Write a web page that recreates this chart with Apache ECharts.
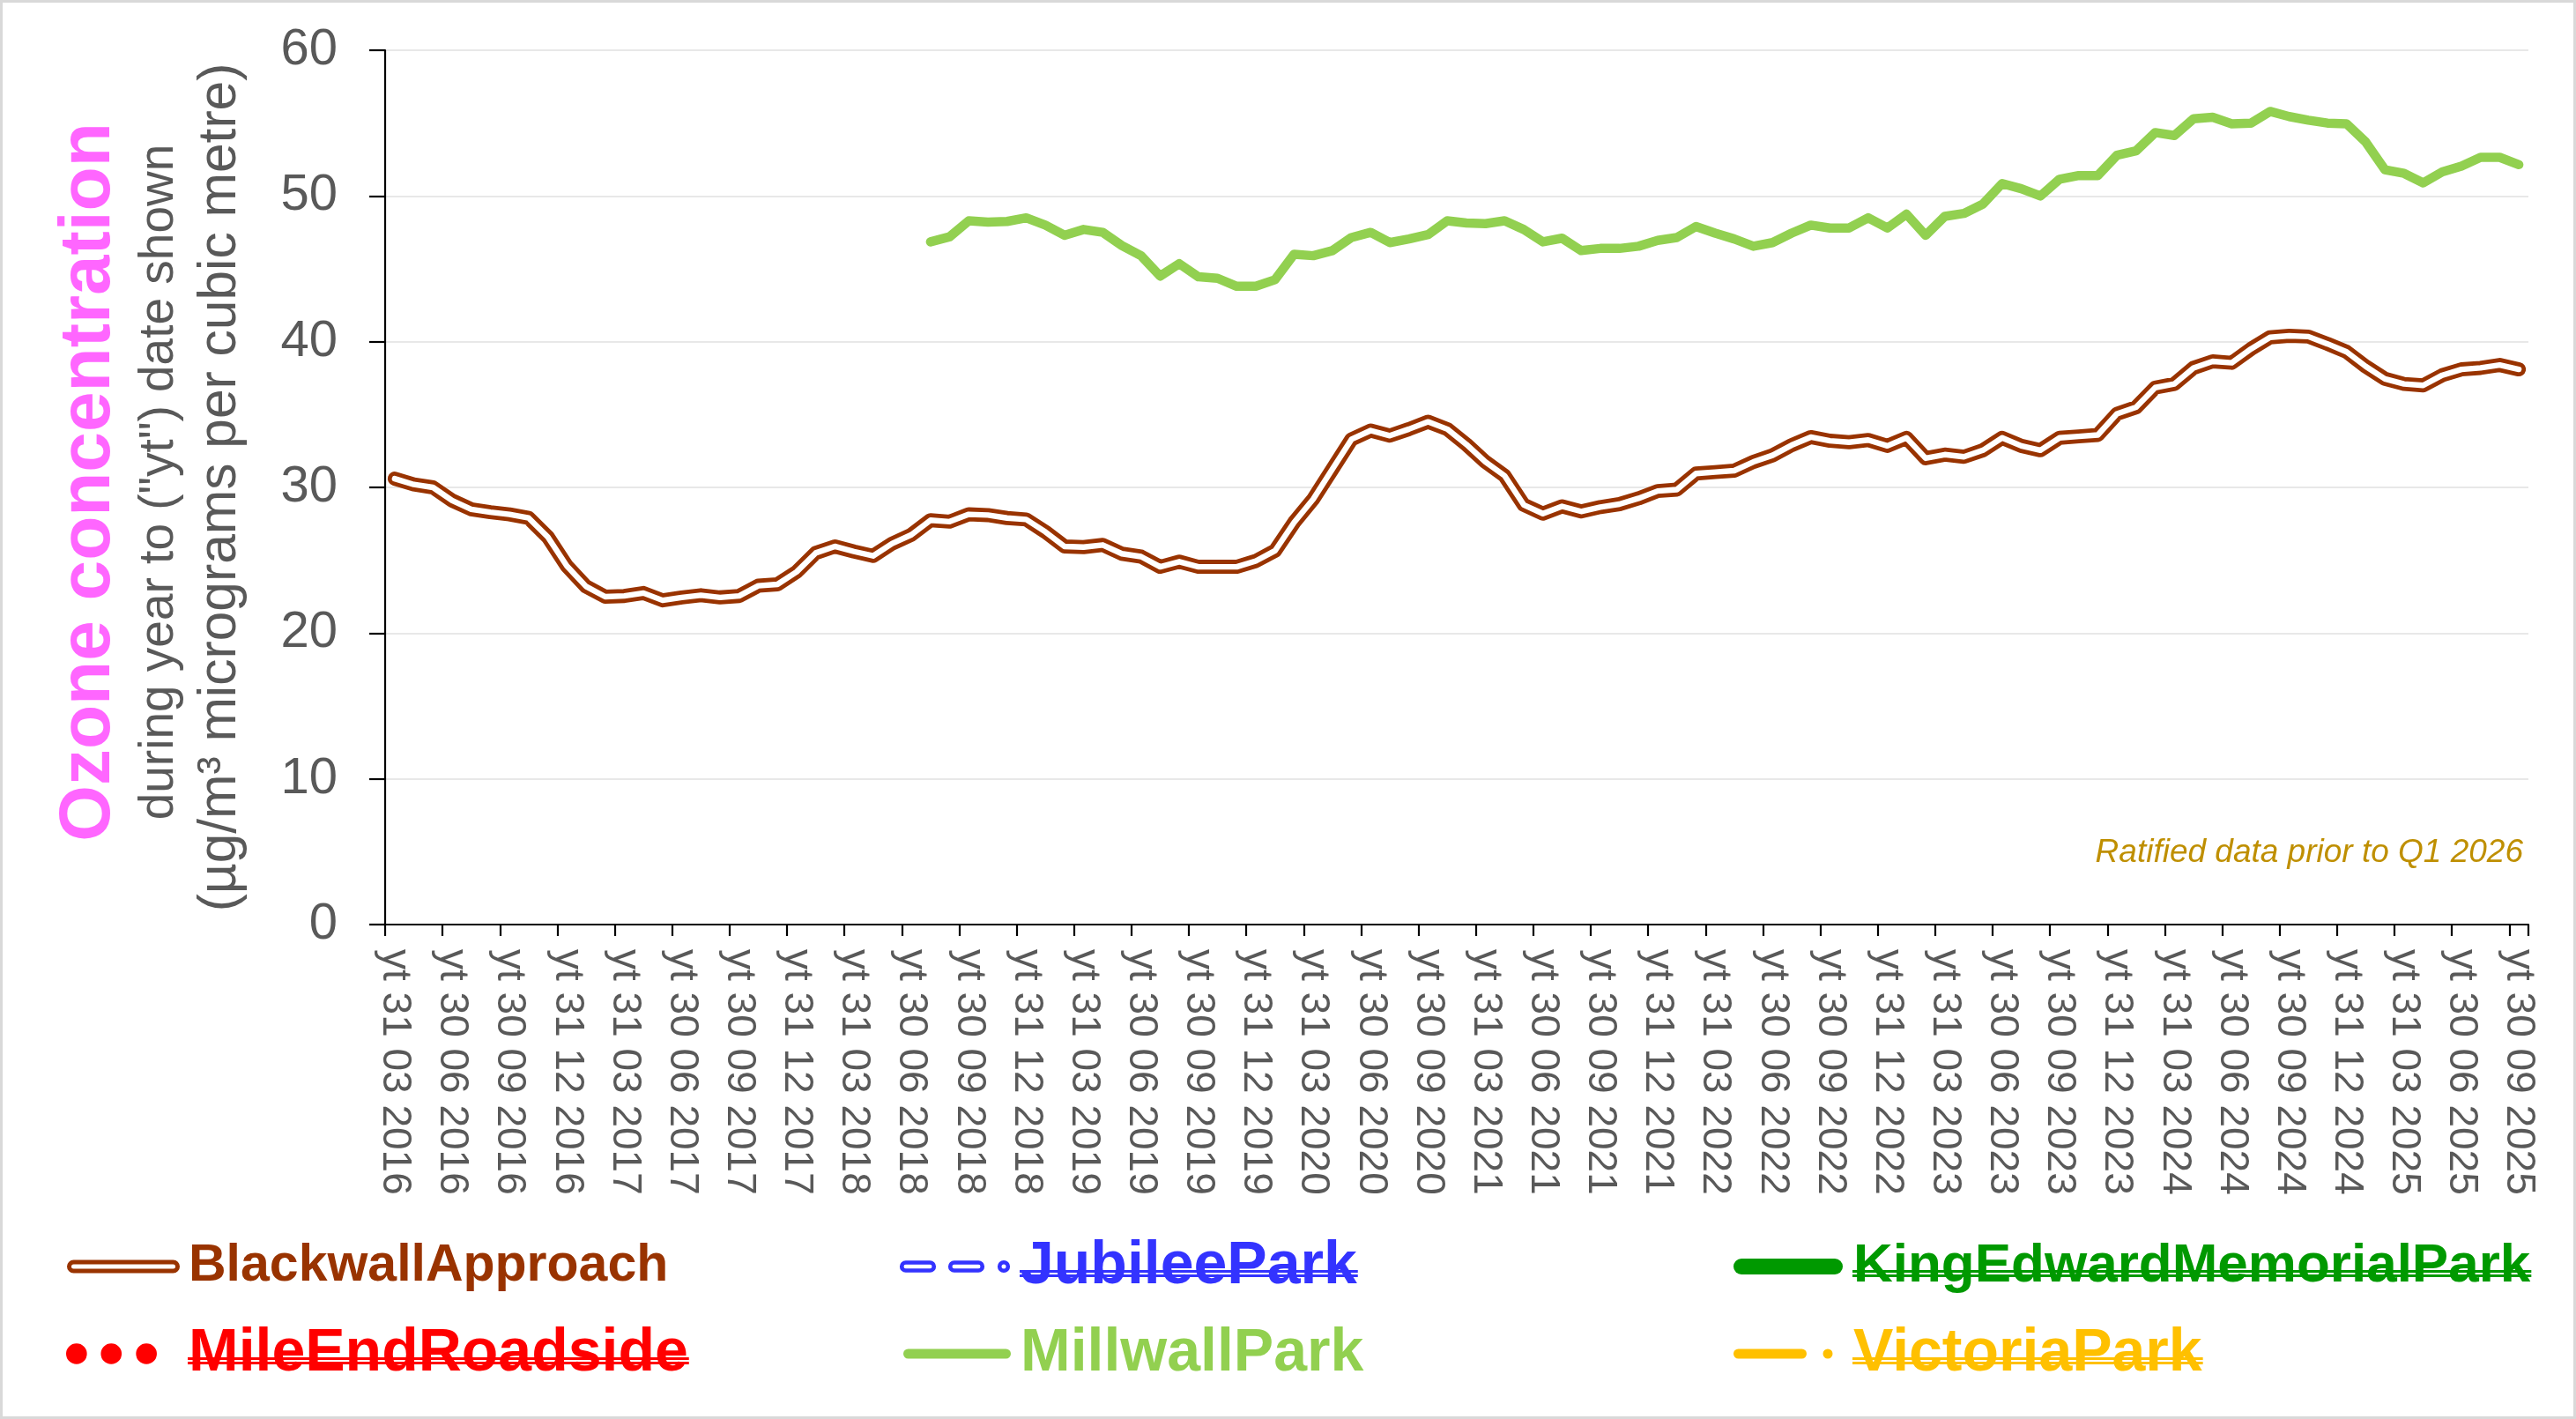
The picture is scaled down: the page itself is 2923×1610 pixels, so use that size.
<!DOCTYPE html>
<html>
<head>
<meta charset="utf-8">
<script src="https://cdn.jsdelivr.net/npm/echarts@6/dist/echarts.min.js"></script>
<style>
html,body{margin:0;padding:0;background:#ffffff;}
#chart{width:2923px;height:1610px;}
</style>
</head>
<body>
<div id="chart"></div>
<script>
// ---------------- DATA ----------------
const categories = [
  "yt 31 03 2016","yt 30 04 2016","yt 31 05 2016","yt 30 06 2016","yt 31 07 2016","yt 31 08 2016","yt 30 09 2016","yt 31 10 2016","yt 30 11 2016","yt 31 12 2016",
  "yt 31 01 2017","yt 28 02 2017","yt 31 03 2017","yt 30 04 2017","yt 31 05 2017","yt 30 06 2017","yt 31 07 2017","yt 31 08 2017","yt 30 09 2017","yt 31 10 2017","yt 30 11 2017","yt 31 12 2017",
  "yt 31 01 2018","yt 28 02 2018","yt 31 03 2018","yt 30 04 2018","yt 31 05 2018","yt 30 06 2018","yt 31 07 2018","yt 31 08 2018","yt 30 09 2018","yt 31 10 2018","yt 30 11 2018","yt 31 12 2018",
  "yt 31 01 2019","yt 28 02 2019","yt 31 03 2019","yt 30 04 2019","yt 31 05 2019","yt 30 06 2019","yt 31 07 2019","yt 31 08 2019","yt 30 09 2019","yt 31 10 2019","yt 30 11 2019","yt 31 12 2019",
  "yt 31 01 2020","yt 29 02 2020","yt 31 03 2020","yt 30 04 2020","yt 31 05 2020","yt 30 06 2020","yt 31 07 2020","yt 31 08 2020","yt 30 09 2020","yt 30 11 2020","yt 31 01 2021",
  "yt 31 03 2021","yt 30 04 2021","yt 31 05 2021","yt 30 06 2021","yt 31 07 2021","yt 31 08 2021","yt 30 09 2021","yt 31 10 2021","yt 30 11 2021","yt 31 12 2021",
  "yt 31 01 2022","yt 28 02 2022","yt 31 03 2022","yt 30 04 2022","yt 31 05 2022","yt 30 06 2022","yt 31 07 2022","yt 31 08 2022","yt 30 09 2022","yt 31 10 2022","yt 30 11 2022","yt 31 12 2022",
  "yt 31 01 2023","yt 28 02 2023","yt 31 03 2023","yt 30 04 2023","yt 31 05 2023","yt 30 06 2023","yt 31 07 2023","yt 31 08 2023","yt 30 09 2023","yt 31 10 2023","yt 30 11 2023","yt 31 12 2023",
  "yt 31 01 2024","yt 29 02 2024","yt 31 03 2024","yt 30 04 2024","yt 31 05 2024","yt 30 06 2024","yt 31 07 2024","yt 31 08 2024","yt 30 09 2024","yt 31 10 2024","yt 30 11 2024","yt 31 12 2024",
  "yt 31 01 2025","yt 28 02 2025","yt 31 03 2025","yt 30 04 2025","yt 31 05 2025","yt 30 06 2025","yt 31 07 2025","yt 31 08 2025","yt 30 09 2025"
];

const blackwallApproach = [
  30.6, 30.2, 30.0, 29.1, 28.5, 28.3, 28.15, 27.9, 26.6, 24.6,
  23.2, 22.5, 22.55, 22.75, 22.25, 22.45, 22.6, 22.45, 22.55, 23.25,
  23.35, 24.2, 25.5, 25.95, 25.6, 25.3, 26.15, 26.75, 27.75, 27.65,
  28.15, 28.1, 27.9, 27.8, 26.95, 25.95, 25.9, 26.05, 25.45, 25.25,
  24.55, 24.9, 24.55, 24.55, 24.55, 24.95, 25.65, 27.6, 29.2, 31.25,
  33.3, 33.9, 33.55, 34.0, 34.5, 34.0, 32.95, 31.75, 30.8, 28.8,
  28.2, 28.7, 28.35, 28.65, 28.85, 29.25, 29.75, 29.85, 30.95, 31.05,
  31.15, 31.75, 32.2, 32.9, 33.45, 33.2, 33.1, 33.25, 32.85, 33.4,
  32.0, 32.25, 32.1, 32.55, 33.4, 32.85, 32.55, 33.4, 33.5, 33.6,
  35.05, 35.5, 36.85, 37.1, 38.2, 38.65, 38.55, 39.5, 40.3, 40.4,
  40.35, 39.85, 39.3, 38.3, 37.45, 37.1, 37.0, 37.7, 38.1, 38.2,
  38.4, 38.1
];

const millwallPark = [
  null, null, null, null, null, null, null, null, null, null,
  null, null, null, null, null, null, null, null, null, null,
  null, null, null, null, null, null, null, null,
  46.85, 47.2, 48.3, 48.2, 48.25, 48.5, 48.0, 47.3, 47.7, 47.5,
  46.6, 45.9, 44.5, 45.35, 44.45, 44.35, 43.8, 43.8, 44.25, 46.0,
  45.9, 46.25, 47.15, 47.5, 46.8, 47.05, 47.35, 48.3, 48.15, 48.1,
  48.3, 47.7, 46.85, 47.1, 46.25, 46.4, 46.4, 46.55, 46.95, 47.15,
  47.9, 47.45, 47.05, 46.55, 46.8, 47.45, 48.0, 47.8, 47.8, 48.5,
  47.8, 48.75, 47.3, 48.6, 48.8, 49.45, 50.85, 50.5, 50.0, 51.15,
  51.4, 51.4, 52.8, 53.1, 54.35, 54.15, 55.3, 55.4, 54.95, 55.0,
  55.8, 55.45, 55.2, 55.0, 54.95, 53.7, 51.8, 51.55, 50.9, 51.65,
  52.05, 52.65, 52.65, 52.15
];

const jubileePark = [];
const kingEdwardMemorialPark = [];
const mileEndRoadside = [];
const victoriaPark = [];

const yMin = 0;
const yMax = 60;
const yStep = 10;

const titleMain = "Ozone concentration";
const titleLine2 = "during year to (\"yt\") date shown";
const titleLine3 = "(\u00B5g/m\u00B3 micrograms per cubic metre)";
const noteText = "Ratified data prior to Q1 2026";

// ---------------- STYLE ----------------
const FONT = '"Liberation Sans", Arial, Helvetica, sans-serif';
const GREY = '#595959';

function capsule(x1, x2, yc, h) {
  const r = h / 2;
  return 'M' + (x1 + r) + ' ' + (yc - r) + 'L' + (x2 - r) + ' ' + (yc - r) +
    'A' + r + ' ' + r + ' 0 0 1 ' + (x2 - r) + ' ' + (yc + r) +
    'L' + (x1 + r) + ' ' + (yc + r) +
    'A' + r + ' ' + r + ' 0 0 1 ' + (x1 + r) + ' ' + (yc - r) + 'Z';
}
function dot(cx, cy, r) {
  return 'M' + (cx - r) + ' ' + cy + 'A' + r + ' ' + r + ' 0 1 1 ' + (cx + r) + ' ' + cy +
    'A' + r + ' ' + r + ' 0 1 1 ' + (cx - r) + ' ' + cy + 'Z';
}
const ICON_W = 134, ICON_H = 26;
const BOX = 'M0 0M' + ICON_W + ' ' + ICON_H;

const legendItems = [
  { name: 'BlackwallApproach', left: 75, row: 1437, size: 59, color: '#993300', strike: false,
    icon: 'path://' + BOX + capsule(3.5, 126.5, 13, 10),
    itemStyle: { color: '#ffffff', borderColor: '#993300', borderWidth: 5 } },
  { name: 'MileEndRoadside', left: 75, row: 1536, size: 68, color: '#FF0000', strike: true,
    icon: 'path://' + BOX + dot(10, 13, 12) + dot(50, 13, 12) + dot(90.5, 13, 12),
    itemStyle: { color: '#FF0000', borderColor: '#FF0000', borderWidth: 0 } },
  { name: 'JubileePark', left: 1019, row: 1437, size: 68, color: '#3333FF', strike: true,
    icon: 'path://' + BOX + capsule(4.2, 40.8, 13, 9) + capsule(59.2, 95.8, 13, 9) + dot(120, 13, 4.8),
    itemStyle: { color: '#ffffff', borderColor: '#3333FF', borderWidth: 4.6 } },
  { name: 'MillwallPark', left: 1019, row: 1536, size: 68, color: '#92D050', strike: false,
    icon: 'path://' + BOX + capsule(6, 128, 13, 11),
    itemStyle: { color: '#92D050', borderColor: '#92D050', borderWidth: 0 } },
  { name: 'KingEdwardMemorialPark', left: 1964, row: 1437, size: 62, color: '#009900', strike: true,
    icon: 'path://' + BOX + capsule(3, 127, 13, 18),
    itemStyle: { color: '#009900', borderColor: '#009900', borderWidth: 0 } },
  { name: 'VictoriaPark', left: 1964, row: 1536, size: 68, color: '#FFC000', strike: true,
    icon: 'path://' + BOX + capsule(3, 86, 13, 11) + dot(110, 13, 5.5),
    itemStyle: { color: '#FFC000', borderColor: '#FFC000', borderWidth: 0 } }
];

const legends = legendItems.map(function (it) {
  return {
    show: true,
    orient: 'vertical',
    left: it.left - it.itemStyle.borderWidth / 2,
    top: it.row - it.size / 2,
    padding: 0,
    itemWidth: ICON_W,
    itemHeight: ICON_H,
    itemGap: 0,
    selectedMode: false,
    data: [{
      name: it.name,
      icon: it.icon,
      itemStyle: it.itemStyle,
      textStyle: { color: it.color, fontSize: it.size, fontWeight: 'bold', fontFamily: FONT }
    }]
  };
});

// strikethrough overlays for the legend entries without data
const measureCtx = document.createElement('canvas').getContext('2d');
const strikeGraphics = [];
legendItems.forEach(function (it) {
  if (!it.strike) return;
  measureCtx.font = 'bold ' + it.size + 'px ' + FONT;
  const w = measureCtx.measureText(it.name).width;
  const x0 = it.left + ICON_W + 5 - 1;
  const x1 = it.left + ICON_W + 5 + w + 1;
  [5.5, 10.5].forEach(function (dy) {
    strikeGraphics.push({
      type: 'line', silent: true, z: 100,
      shape: { x1: x0, y1: it.row + dy, x2: x1, y2: it.row + dy },
      style: { stroke: it.color, lineWidth: 2.8 }
    });
  });
});

const chart = echarts.init(document.getElementById('chart'), null, { renderer: 'canvas' });

const option = {
  backgroundColor: '#ffffff',
  animation: false,
  tooltip: { show: false },
  grid: { left: 437, right: 54, top: 57, bottom: 561, containLabel: false, outerBoundsMode: 'none' },
  legend: legends,
  xAxis: {
    type: 'category',
    data: categories,
    boundaryGap: true,
    axisLine: { show: true, lineStyle: { color: '#000000', width: 2.2 } },
    axisTick: { show: true, interval: 2, length: 13, inside: false, lineStyle: { color: '#000000', width: 2.2 } },
    axisLabel: { show: true, interval: 2, rotate: -90, margin: 28, fontSize: 46, color: GREY, fontFamily: FONT },
    splitLine: { show: false }
  },
  yAxis: {
    type: 'value',
    min: yMin,
    max: yMax,
    interval: yStep,
    axisLine: { show: true, lineStyle: { color: '#000000', width: 2.2 } },
    axisTick: { show: true, length: 18, inside: false, lineStyle: { color: '#000000', width: 2.2 } },
    axisLabel: { show: true, margin: 54, fontSize: 58, color: GREY, fontFamily: FONT },
    splitLine: { show: true, lineStyle: { color: '#E0E0E0', width: 1.5 } }
  },
  series: [
    { name: 'BlackwallApproach', type: 'line', data: blackwallApproach, symbol: 'none', showSymbol: false,
      lineStyle: { color: '#993300', width: 16, cap: 'round', join: 'round' }, itemStyle: { color: '#993300' } },
    { name: 'BlackwallApproach (inner)', type: 'line', data: blackwallApproach, symbol: 'none', showSymbol: false, silent: true,
      lineStyle: { color: '#ffffff', width: 6.4, cap: 'round', join: 'round' }, itemStyle: { color: '#ffffff' } },
    { name: 'JubileePark', type: 'line', data: jubileePark, symbol: 'none',
      lineStyle: { color: '#3333FF', width: 6, type: 'dashed' }, itemStyle: { color: '#3333FF' } },
    { name: 'KingEdwardMemorialPark', type: 'line', data: kingEdwardMemorialPark, symbol: 'none',
      lineStyle: { color: '#009900', width: 17 }, itemStyle: { color: '#009900' } },
    { name: 'MileEndRoadside', type: 'line', data: mileEndRoadside, symbol: 'none',
      lineStyle: { color: '#FF0000', width: 12, type: 'dotted' }, itemStyle: { color: '#FF0000' } },
    { name: 'MillwallPark', type: 'line', data: millwallPark, symbol: 'none', showSymbol: false, connectNulls: false,
      lineStyle: { color: '#92D050', width: 10.5, cap: 'round', join: 'round' }, itemStyle: { color: '#92D050' } },
    { name: 'VictoriaPark', type: 'line', data: victoriaPark, symbol: 'none',
      lineStyle: { color: '#FFC000', width: 10, type: 'dashed' }, itemStyle: { color: '#FFC000' } }
  ],
  graphic: [
    { type: 'rect', silent: true, z: -10,
      shape: { x: 1.5, y: 1.5, width: 2920, height: 1607 },
      style: { fill: 'none', stroke: '#D9D9D9', lineWidth: 3 } },
    { type: 'text', silent: true, x: 101, y: 547, rotation: Math.PI / 2,
      style: { text: titleMain, fill: '#FF66FF', font: 'bold 82px ' + FONT,
        align: 'center', verticalAlign: 'middle', textAlign: 'center', textVerticalAlign: 'middle' } },
    { type: 'text', silent: true, x: 181, y: 547, rotation: Math.PI / 2,
      style: { text: titleLine2, fill: GREY, font: '55px ' + FONT,
        align: 'center', verticalAlign: 'middle', textAlign: 'center', textVerticalAlign: 'middle' } },
    { type: 'text', silent: true, x: 250, y: 553, rotation: Math.PI / 2,
      style: { text: titleLine3, fill: GREY, font: '60.5px ' + FONT,
        align: 'center', verticalAlign: 'middle', textAlign: 'center', textVerticalAlign: 'middle' } },
    { type: 'text', silent: true, x: 2863, y: 968,
      style: { text: noteText, fill: '#BF8F00', font: 'italic 37px ' + FONT,
        align: 'right', verticalAlign: 'middle', textAlign: 'right', textVerticalAlign: 'middle' } }
  ].concat(strikeGraphics)
};

chart.setOption(option);
</script>
</body>
</html>
